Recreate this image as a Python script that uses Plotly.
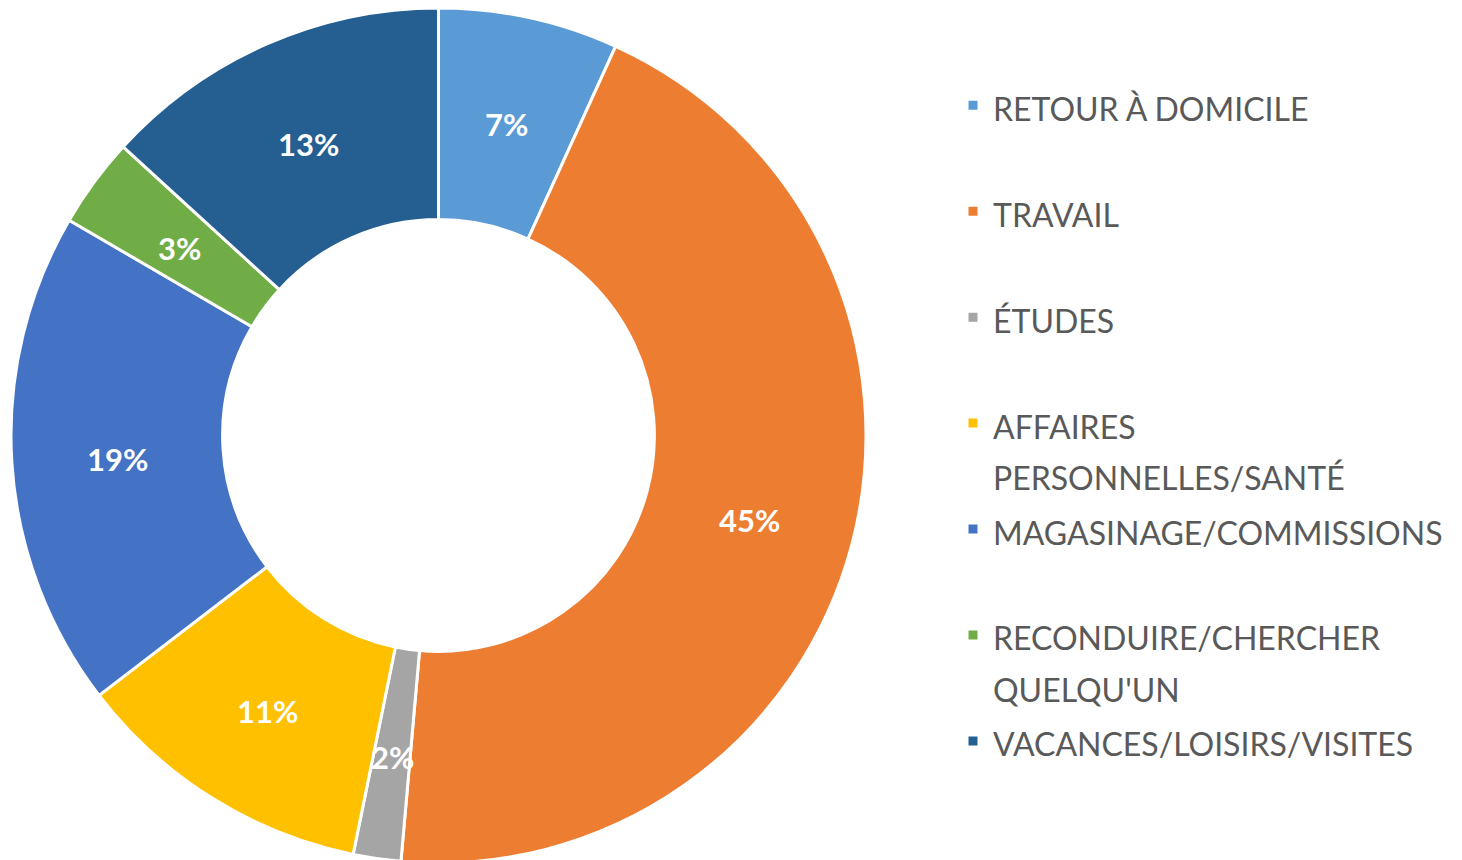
import math
import plotly.graph_objects as go

categories = ["RETOUR À DOMICILE", "TRAVAIL", "ÉTUDES",
              "AFFAIRES<br>PERSONNELLES/SANTÉ", "MAGASINAGE/COMMISSIONS",
              "RECONDUIRE/CHERCHER<br>QUELQU'UN", "VACANCES/LOISIRS/VISITES"]
values = [6.8, 44.6, 1.8, 11.4, 18.8, 3.4, 13.2]
colors = ["#5B9BD5", "#ED7D31", "#A5A5A5", "#FFC000", "#4472C4", "#70AD47", "#255E91"]

W, H = 1462, 860
HOLE = 0.505
LEG_TEXT = 32
LEG_BASE = 39.6

# pie box (figure pixels; the page adds an 8px body margin)
CX, CY, R = 430.5, 427.5, 427.5


def legend_label(c):
    lines = c.split("<br>")
    if len(lines) == 1:
        lines.append(" ")
    return "<br>".join(f"<span style='font-size:{LEG_TEXT}px'>{l}</span>" for l in lines)


labels = [legend_label(c) for c in categories]

fig = go.Figure(go.Pie(
    labels=labels,
    values=values,
    sort=False,
    direction="clockwise",
    rotation=0,
    hole=HOLE,
    marker=dict(colors=colors, line=dict(color="white", width=3)),
    textinfo="none",
    domain=dict(x=[(CX - R) / W, (CX + R) / W], y=[1 - (CY + R) / H, 1]),
))

# percentage labels at the middle of each ring segment
total = sum(values)
rm = R * (1 + HOLE) / 2
cum = 0.0
for v in values:
    mid = (cum + v / 2) / total * 2 * math.pi
    cum += v
    px = CX + rm * math.sin(mid)
    py = CY - rm * math.cos(mid)
    fig.add_annotation(
        x=px / W, y=1 - py / H, xref="paper", yref="paper",
        text=f"{round(v / total * 100)}%", showarrow=False,
        xanchor="center", yanchor="middle", yshift=-3,
        font=dict(family="Lato", size=31, color="white", weight="bold"),
    )

fig.update_layout(
    width=W, height=H,
    margin=dict(l=0, r=0, t=0, b=0),
    paper_bgcolor="white",
    plot_bgcolor="white",
    showlegend=True,
    legend=dict(
        x=945 / W, xanchor="left",
        y=1 - 65 / H, yanchor="top",
        valign="top",
        font=dict(family="Lato", size=LEG_BASE, color="#595959"),
        bgcolor="rgba(0,0,0,0)",
    ),
)

fig.write_html("out.html")
